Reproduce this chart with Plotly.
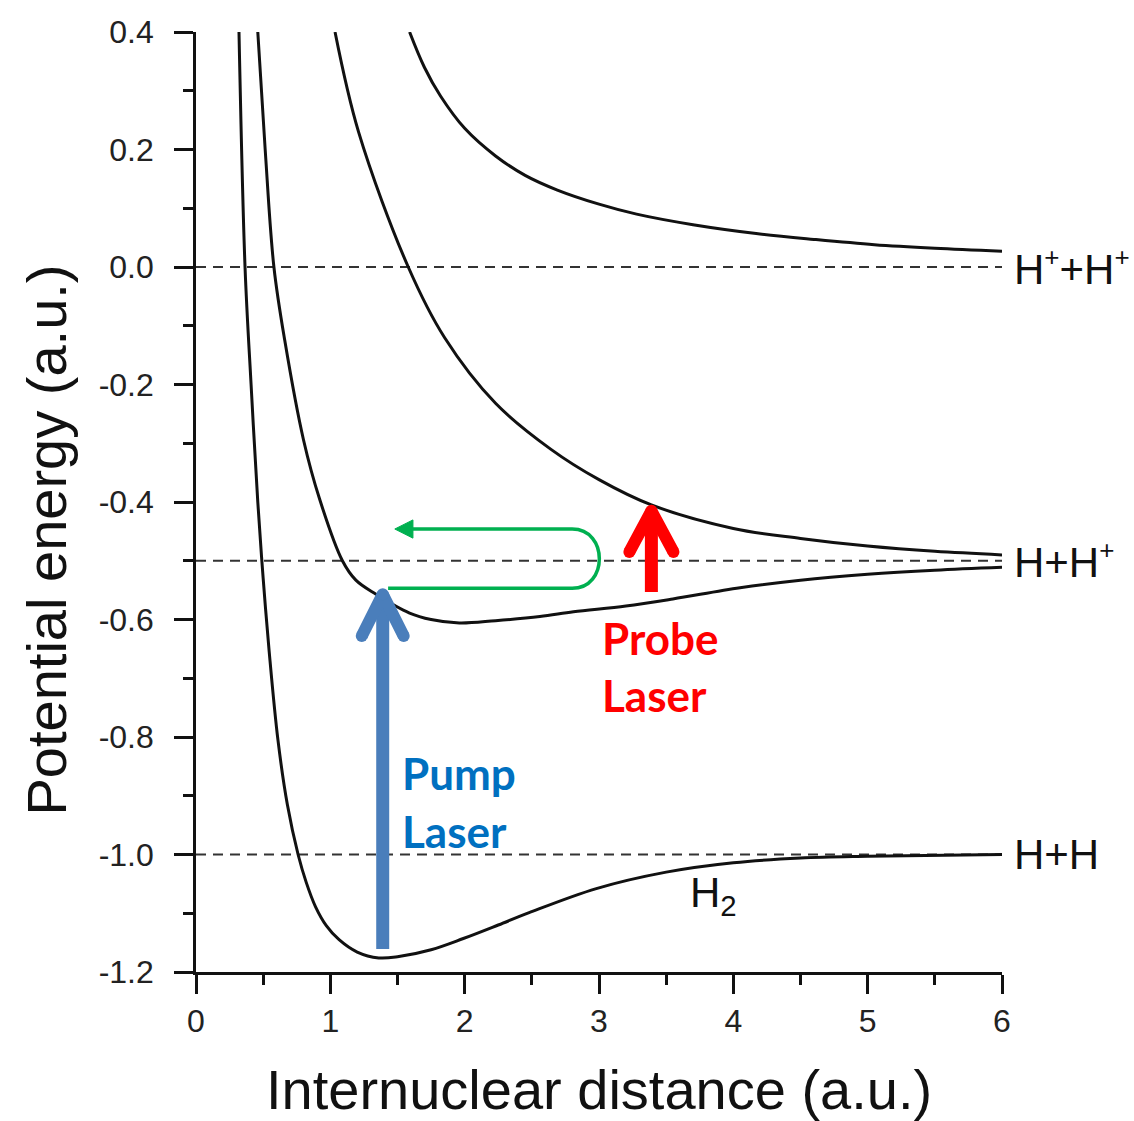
import plotly.graph_objects as go

# ---------------- data ----------------
# H2 ground state
R_H2 = [0.32, 0.365, 0.41, 0.46, 0.50, 0.545, 0.61, 0.68, 0.76, 0.82, 0.89, 0.97, 1.065, 1.2, 1.36, 1.5, 1.75, 1.99, 2.25, 2.48, 2.98, 3.5, 4.0, 4.5, 5.0, 6.0]
E_H2 = [0.4, 0.0, -0.20, -0.40, -0.53, -0.655, -0.805, -0.915, -1.0, -1.047, -1.089, -1.121, -1.145, -1.166, -1.176, -1.174, -1.162, -1.143, -1.120, -1.099, -1.058, -1.030, -1.014, -1.006, -1.003, -1.0]

# H2+ bound state (-> H + H+)
R_H2P_G = [0.46, 0.515, 0.58, 0.66, 0.80, 0.92, 1.09, 1.19, 1.34, 1.59, 1.75, 1.96, 2.23, 2.56, 2.81, 3.2, 3.55, 4.05, 4.5, 5.0, 5.5, 6.0]
E_H2P_G = [0.4, 0.2, 0.0, -0.124, -0.294, -0.395, -0.5, -0.533, -0.557, -0.589, -0.600, -0.606, -0.602, -0.595, -0.587, -0.577, -0.565, -0.546, -0.533, -0.523, -0.516, -0.511]

# H2+ repulsive state (-> H + H+)
R_H2P_U = [1.035, 1.21, 1.58, 1.85, 2.23, 2.64, 3.0, 3.39, 4.0, 4.5, 5.0, 5.5, 6.0]
E_H2P_U = [0.4, 0.23, 0.0, -0.12, -0.232, -0.31, -0.362, -0.405, -0.445, -0.462, -0.475, -0.484, -0.49]

# Coulomb explosion H+ + H+
R_COUL = [1.59, 1.7, 1.82, 2.0, 2.23, 2.45, 2.69, 3.0, 3.28, 3.7, 4.17, 4.6, 5.05, 5.5, 6.0]
E_COUL = [0.40, 0.340, 0.291, 0.236, 0.189, 0.156, 0.131, 0.107, 0.09, 0.072, 0.057, 0.047, 0.038, 0.032, 0.027]

ASYMPTOTES = [0.0, -0.5, -1.0]
SUP_PLUS = '<sup><span style="font-size:26px">+</span></sup>'
ASYMPTOTE_LABELS = ["H" + SUP_PLUS + "+H" + SUP_PLUS, "H+H" + SUP_PLUS, "H+H"]

X_TICKS = [0, 1, 2, 3, 4, 5, 6]
X_TICK_LABELS = ["0", "1", "2", "3", "4", "5", "6"]
Y_TICKS = [0.4, 0.2, 0.0, -0.2, -0.4, -0.6, -0.8, -1.0, -1.2]
Y_TICK_LABELS = ["0.4", "0.2", "0.0", "-0.2", "-0.4", "-0.6", "-0.8", "-1.0", "-1.2"]

# annotation anchors (data units)
PUMP_R, PUMP_E0, PUMP_E1, PUMP_HEAD_DX, PUMP_HEAD_DY = 1.39, -1.161, -0.557, 0.156, 0.071
PROBE_R, PROBE_E0, PROBE_E1, PROBE_HEAD_DX, PROBE_HEAD_DY = 3.39, -0.553, -0.415, 0.164, 0.070

BLACK = "#111111"
BLUE_ARROW = "#4A7EBB"
BLUE_TEXT = "#0070C0"
RED = "#FF0000"
GREEN = "#00B050"
FONT = "Liberation Sans, Arial, sans-serif"
BOLD_FONT = "Lato, Open Sans, sans-serif"

fig = go.Figure()

# dashed dissociation limits
for lvl in ASYMPTOTES:
    fig.add_trace(go.Scatter(x=[0, 6], y=[lvl, lvl], mode="lines",
                             line=dict(color="#333333", width=2, dash="10px,7px"),
                             hoverinfo="skip", showlegend=False))

# potential curves
for R, E in [(R_H2, E_H2), (R_H2P_G, E_H2P_G), (R_H2P_U, E_H2P_U), (R_COUL, E_COUL)]:
    fig.add_trace(go.Scatter(x=R, y=E, mode="lines",
                             line=dict(color=BLACK, width=3, shape="spline", smoothing=1.0),
                             hoverinfo="skip", showlegend=False))

# arrows (shaft + V head)
def thick_arrow(r, e0, e1, dx, dy, color):
    fig.add_trace(go.Scatter(x=[r, r], y=[e0, e1], mode="lines",
                             line=dict(color=color, width=13),
                             hoverinfo="skip", showlegend=False))
    fig.add_trace(go.Scatter(x=[r - dx, r, r + dx], y=[e1 - dy, e1, e1 - dy],
                             mode="lines+markers",
                             line=dict(color=color, width=12),
                             marker=dict(color=color, size=12),
                             hoverinfo="skip", showlegend=False))

thick_arrow(PUMP_R, PUMP_E0, PUMP_E1, PUMP_HEAD_DX, PUMP_HEAD_DY, BLUE_ARROW)
thick_arrow(PROBE_R, PROBE_E0, PROBE_E1, PROBE_HEAD_DX, PROBE_HEAD_DY, RED)

# green wave-packet loop
LOOP_R0, LOOP_R1, LOOP_RC, LOOP_END = 1.43, 2.80, 3.07, 1.60
LOOP_E_LOW, LOOP_E_HIGH = -0.547, -0.446
loop_path = (f"M {LOOP_R0},{LOOP_E_LOW} L {LOOP_R1},{LOOP_E_LOW} "
             f"C {LOOP_RC},{LOOP_E_LOW} {LOOP_RC},{LOOP_E_HIGH} {LOOP_R1},{LOOP_E_HIGH} "
             f"L {LOOP_END},{LOOP_E_HIGH}")
fig.add_shape(type="path", path=loop_path, xref="x", yref="y",
              line=dict(color=GREEN, width=3.5))
HEAD_TIP, HEAD_BASE, HEAD_HALF = 1.48, 1.615, 0.0155
fig.add_shape(type="path", xref="x", yref="y",
              path=(f"M {HEAD_TIP},{LOOP_E_HIGH} L {HEAD_BASE},{LOOP_E_HIGH + HEAD_HALF} "
                    f"L {HEAD_BASE},{LOOP_E_HIGH - HEAD_HALF} Z"),
              fillcolor=GREEN, line=dict(color=GREEN, width=1))

annotations = []
# dissociation-limit labels (outside the plot area on the right)
for lvl, lab in zip(ASYMPTOTES, ASYMPTOTE_LABELS):
    annotations.append(dict(x=1.013, y=lvl, xref="paper", yref="y", text=lab, showarrow=False,
                            xanchor="left", yanchor="middle",
                            font=dict(family=FONT, size=42, color=BLACK)))
annotations.append(dict(x=3.66, y=-1.07, xref="x", yref="y", text="H<sub>2</sub>",
                        showarrow=False, xanchor="left", yanchor="middle",
                        font=dict(family=FONT, size=42, color=BLACK)))
# laser labels
for txt, x, y, col in [("Pump", 1.52, -0.862, BLUE_TEXT), ("Laser", 1.52, -0.960, BLUE_TEXT),
                       ("Probe", 3.01, -0.632, RED), ("Laser", 3.01, -0.728, RED)]:
    annotations.append(dict(x=x, y=y, xref="x", yref="y", text=txt, showarrow=False,
                            xanchor="left", yanchor="middle",
                            font=dict(family=BOLD_FONT, size=44, color=col, weight="bold")))
# axis titles
annotations.append(dict(x=0.5, y=-0.125, xref="paper", yref="paper",
                        text="Internuclear distance (a.u.)", showarrow=False,
                        xanchor="center", yanchor="middle",
                        font=dict(family=FONT, size=56, color=BLACK)))
annotations.append(dict(x=-0.185, y=0.46, xref="paper", yref="paper",
                        text="Potential energy (a.u.)", showarrow=False, textangle=-90,
                        xanchor="center", yanchor="middle",
                        font=dict(family=FONT, size=56, color=BLACK)))

axis_common = dict(showline=True, linecolor=BLACK, linewidth=2.6, ticks="outside",
                   ticklen=19, tickwidth=2.6, tickcolor=BLACK, showgrid=False, zeroline=False,
                   tickfont=dict(family=FONT, size=32, color="#222222"))

fig.update_layout(
    width=1134, height=1121,
    margin=dict(l=196, r=132, t=32, b=149),
    paper_bgcolor="white", plot_bgcolor="white",
    showlegend=False,
    annotations=annotations,
    xaxis=dict(range=[0, 6], tickvals=X_TICKS, ticktext=X_TICK_LABELS,
               minor=dict(ticks="outside", ticklen=10, tickwidth=2.6, tickcolor=BLACK,
                          tick0=0, dtick=0.5, showgrid=False),
               ticklabelstandoff=0, **axis_common),
    yaxis=dict(range=[-1.2, 0.4], tickvals=Y_TICKS, ticktext=Y_TICK_LABELS,
               minor=dict(ticks="outside", ticklen=10, tickwidth=2.6, tickcolor=BLACK,
                          tick0=0, dtick=0.1, showgrid=False),
               ticklabelstandoff=14, **axis_common),
)

fig.write_html("out.html")
